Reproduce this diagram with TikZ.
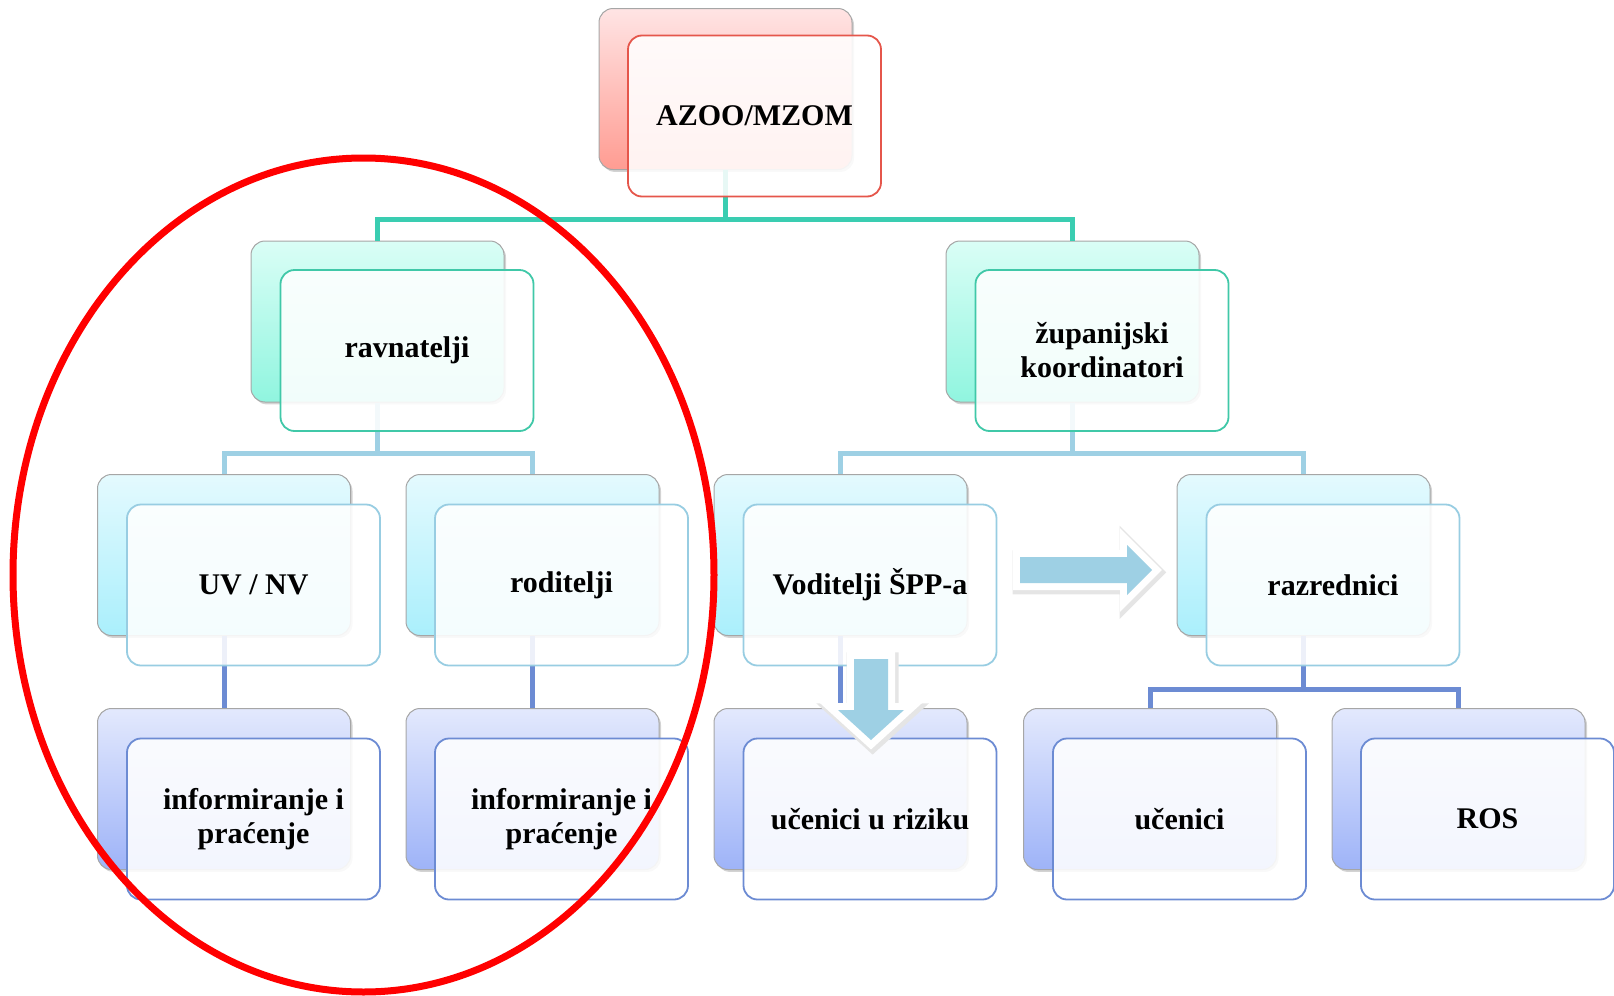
\documentclass[tikz,border=0pt]{standalone}
\usepackage{fontspec}
\setmainfont{Liberation Serif}
\usepackage{tikz}
\usetikzlibrary{shapes,arrows,shadows}
\usepackage{xcolor}

\definecolor{azooTop}{HTML}{FFE4E4}
\definecolor{azooBot}{HTML}{FF9C92}
\definecolor{azooLine}{HTML}{E5564B}
\definecolor{tealTop}{HTML}{DAFEF6}
\definecolor{tealBot}{HTML}{90F5DF}
\definecolor{tealLine}{HTML}{40C8A8}
\definecolor{skyTop}{HTML}{E4FAFE}
\definecolor{skyBot}{HTML}{AAEFFC}
\definecolor{skyLine}{HTML}{98CDE2}
\definecolor{bluTop}{HTML}{E3E9FD}
\definecolor{bluBot}{HTML}{9EB3F8}
\definecolor{bluLine}{HTML}{6C8BD3}
\definecolor{arrowBlue}{HTML}{9ED0E4}

\begin{document}
\begin{tikzpicture}[x=0.5pt,y=-0.5pt]
      \tikzstyle{back} = [rectangle, rounded corners=7pt, draw=gray!70, line width=0.5pt, minimum width=126.5pt, minimum height=80.5pt, drop shadow={opacity=0.35, shadow xshift=1pt, shadow yshift=-1.2pt}]
      \tikzstyle{front} = [rectangle, rounded corners=7pt, fill=white, fill opacity=0.88, text opacity=1, line width=0.9pt, minimum width=126.5pt, minimum height=80.5pt, align=center, font=\bfseries\fontsize{15}{17}\selectfont]
      \tikzstyle{redback} = [back, top color=azooTop, bottom color=azooBot]
      \tikzstyle{tealback} = [back, top color=tealTop, bottom color=tealBot]
      \tikzstyle{skyback} = [back, top color=skyTop, bottom color=skyBot]
      \tikzstyle{bluback} = [back, top color=bluTop, bottom color=bluBot]
      \tikzstyle{redfront} = [front, draw=azooLine]
      \tikzstyle{tealfront} = [front, draw=tealLine]
      \tikzstyle{skyfront} = [front, draw=skyLine]
      \tikzstyle{blufront} = [front, draw=bluLine]
      \tikzstyle{tealcon} = [draw=tealLine!90!cyan, line width=2.5pt]
      \tikzstyle{skycon} = [draw=arrowBlue, line width=2.5pt]
      \tikzstyle{blucon} = [draw=bluLine, line width=2.5pt]
      \tikzstyle{blockarrow} = [fill=arrowBlue, line join=miter,
        preaction={draw=black!10, line width=9pt, line join=miter, transform canvas={xshift=0.8pt, yshift=-1.2pt}},
        preaction={draw=white, line width=7pt, line join=miter}]

      \useasboundingbox (0,0) rectangle (1614,996);

      % back boxes
      \node[redback] (azooB) at (725.5,89) {};
      \node[tealback] (ravnB) at (377.5,321.5) {};
      \node[tealback] (zupB) at (1072.5,321.5) {};
      \node[skyback] (uvB) at (224,555) {};
      \node[skyback] (rodB) at (532.5,555) {};
      \node[skyback] (vodB) at (840.5,555) {};
      \node[skyback] (razB) at (1303.5,555) {};
      \node[bluback] (inf1B) at (224,789) {};
      \node[bluback] (inf2B) at (532.5,789) {};
      \node[bluback] (rizB) at (840.5,789) {};
      \node[bluback] (ucB) at (1150,789) {};
      \node[bluback] (rosB) at (1458.5,789) {};

      % connectors
      \draw[tealcon] (azooB.south) -- ++(0,49) -| (ravnB.north);
      \draw[tealcon] (azooB.south) -- ++(0,49) -| (zupB.north);
      \draw[skycon] (ravnB.south) -- ++(0,51) -| (uvB.north);
      \draw[skycon] (ravnB.south) -- ++(0,51) -| (rodB.north);
      \draw[skycon] (zupB.south) -- ++(0,51) -| (vodB.north);
      \draw[skycon] (zupB.south) -- ++(0,51) -| (razB.north);
      \draw[blucon] (uvB.south) -- (inf1B.north);
      \draw[blucon] (rodB.south) -- (inf2B.north);
      \draw[blucon] (vodB.south) -- (rizB.north);
      \draw[blucon] (razB.south) -- ++(0,53) -| (ucB.north);
      \draw[blucon] (razB.south) -- ++(0,53) -| (rosB.north);

      % front boxes
      \node[redfront] (azoo) at (754.5,116) {AZOO/MZOM};
      \node[tealfront] (ravn) at (407,350.5) {ravnatelji};
      \node[tealfront] (zup) at (1102,350.5) {županijski\\koordinatori};
      \node[skyfront] (uv) at (253.5,585) {UV / NV};
      \node[skyfront] (rod) at (561.5,585) {roditelji};
      \node[skyfront] (vod) at (870,585) {Voditelji ŠPP-a};
      \node[skyfront] (raz) at (1333,585) {razrednici};
      \node[blufront] (inf1) at (253.5,819) {informiranje i\\praćenje};
      \node[blufront] (inf2) at (561.5,819) {informiranje i\\praćenje};
      \node[blufront] (riz) at (870,819) {učenici u riziku};
      \node[blufront] (uc) at (1179.5,819) {učenici};
      \node[blufront] (ros) at (1487.5,819) {ROS};

      % block arrows
      \path[blockarrow] (1020,557) -- (1127,557) -- (1127,545) -- (1152,570) -- (1127,595) -- (1127,583) -- (1020,583) -- cycle;
      \path[blockarrow] (854,659) -- (888,659) -- (888,710) -- (904,710) -- (871,740) -- (838,710) -- (854,710) -- cycle;

      % red ellipse
      \draw[red, line width=3.5pt] (363.5,575) ellipse [x radius=350.5, y radius=417];
    \end{tikzpicture}
\end{document}
